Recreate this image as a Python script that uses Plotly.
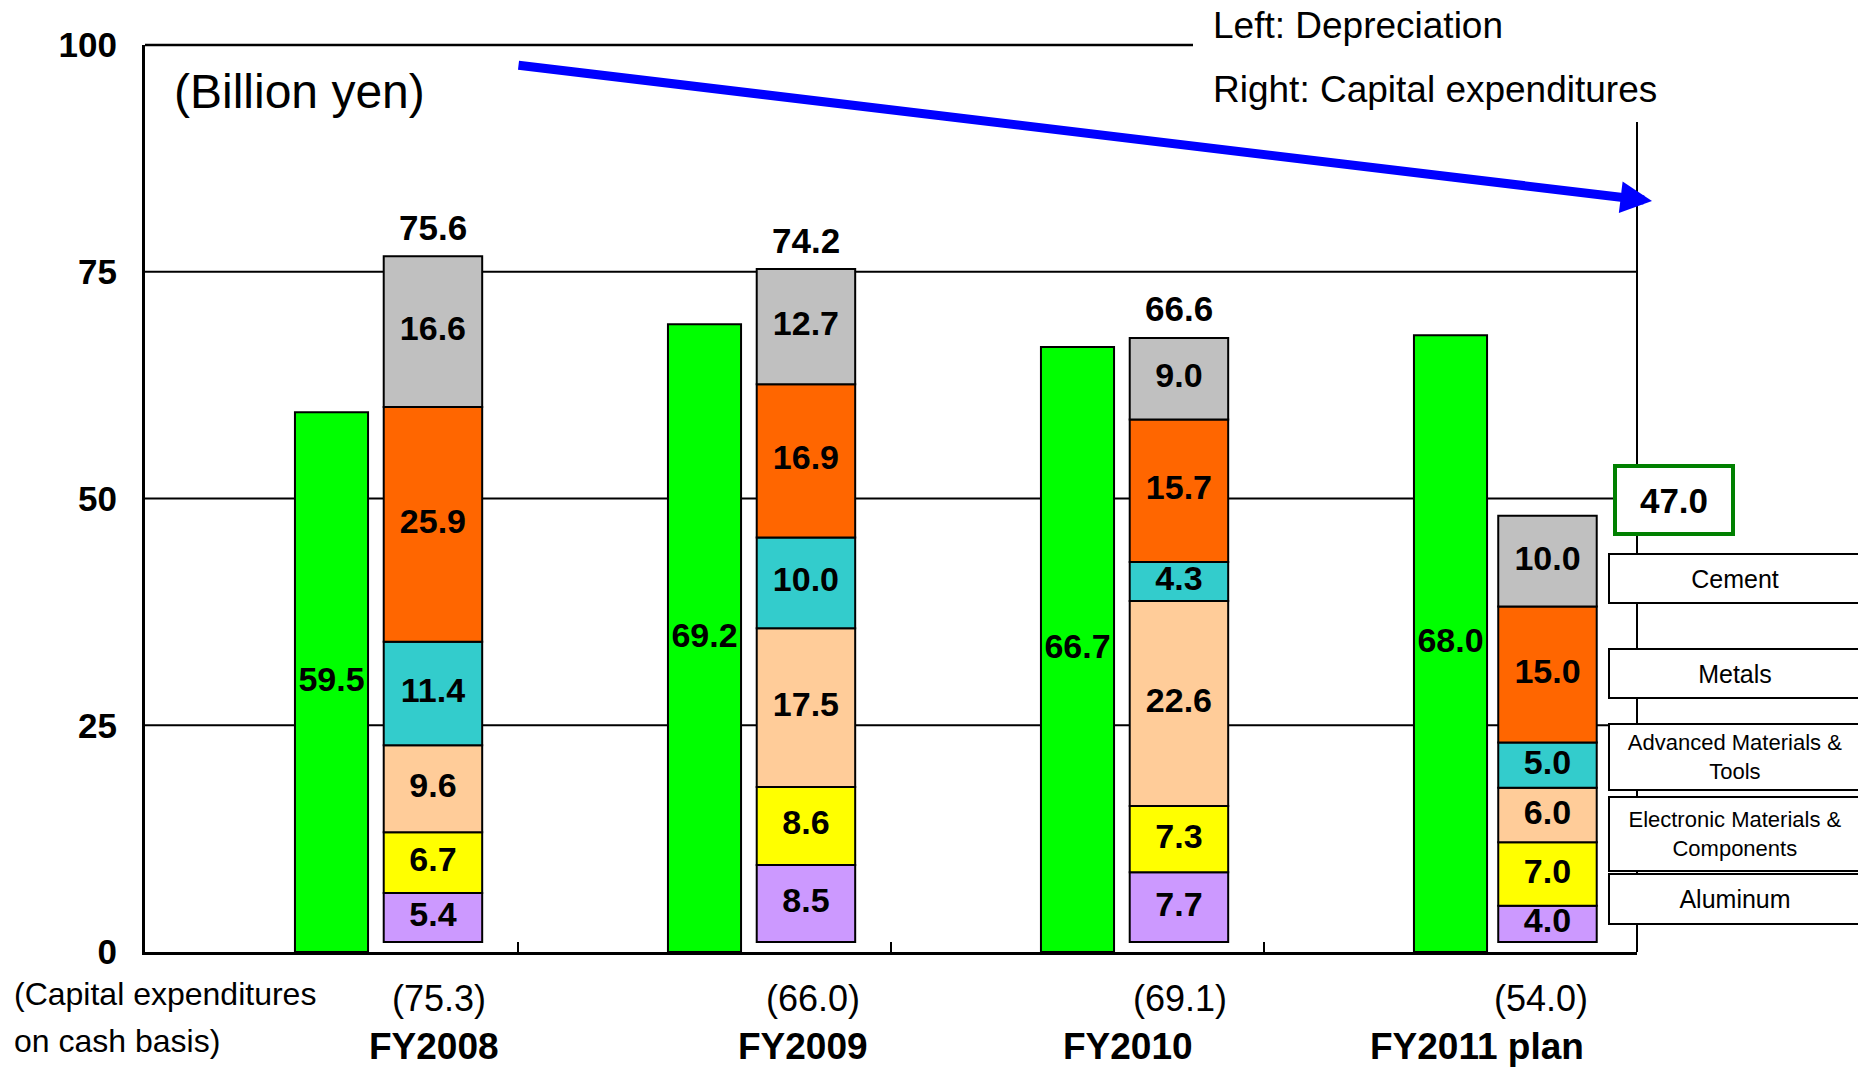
import numpy as np
import plotly.graph_objects as go

# ---- data (billion yen) ----
years = ["FY2008", "FY2009", "FY2010", "FY2011 plan"]
depreciation = [59.5, 69.2, 66.7, 68.0]
capex_cash_basis = ["(75.3)", "(66.0)", "(69.1)", "(54.0)"]

# capital expenditure segments, listed bottom to top of each stack
others = [5.4, 8.5, 7.7, 4.0]
aluminum = [6.7, 8.6, 7.3, 7.0]
electronic = [9.6, 17.5, 22.6, 6.0]
advanced = [11.4, 10.0, 4.3, 5.0]
metals = [25.9, 16.9, 15.7, 15.0]
cement = [16.6, 12.7, 9.0, 10.0]
capex_totals = [75.6, 74.2, 66.6, 47.0]

segment_labels = ["Cement", "Metals", "Advanced Materials &<br>Tools",
                  "Electronic Materials &<br>Components", "Aluminum"]
y_ticks = [0, 25, 50, 75, 100]

# ---- styling ----
FONT = "Liberation Sans, Arial, sans-serif"
W, H = 1858, 1067
L, R, T, B = 145, 1637, 45, 952          # plot-area edges in page pixels
STACK_BASE = 1.1                          # stacks sit slightly above the axis
DEP_W, CAP_W, CAP_SHIFT = 0.196, 0.264, 0.272

segments = [
    ("Others", others, "#CC99FF"),
    ("Aluminum", aluminum, "#FFFF00"),
    ("Electronic Materials & Components", electronic, "#FFCC99"),
    ("Advanced Materials & Tools", advanced, "#33CCCC"),
    ("Metals", metals, "#FF6600"),
    ("Cement", cement, "#C0C0C0"),
]


def px_x(px):
    return (px - L) / (R - L)


def px_y(py):
    return (B - py) / (B - T)


def note(**kw):
    """Annotation with explicit centre anchoring unless overridden."""
    d = dict(xanchor="center", yanchor="middle", showarrow=False)
    d.update(kw)
    return d


x_dep = np.arange(len(years)) + 0.5
x_cap = x_dep + CAP_SHIFT - np.array([0, 0, 0, 0.012])

fig = go.Figure()
outline = dict(color="black", width=2)
num_font = dict(family=FONT, size=34, color="black", weight="bold")

# depreciation bars
fig.add_trace(go.Bar(x=x_dep, y=depreciation, width=DEP_W,
                     marker=dict(color="#00FF00", line=outline),
                     name="Depreciation", showlegend=False))
fig.add_trace(go.Scatter(x=x_dep, y=np.array(depreciation) / 2, mode="text",
                         text=[f"{v:.1f}" for v in depreciation],
                         textfont=num_font, textposition="middle center",
                         showlegend=False, cliponaxis=False))

# stacked capital expenditure bars
base = np.full(len(years), STACK_BASE)
for name, vals, color in segments:
    vals = np.array(vals)
    fig.add_trace(go.Bar(x=x_cap, y=vals, base=base, width=CAP_W,
                         marker=dict(color=color, line=outline),
                         name=name, showlegend=False))
    fig.add_trace(go.Scatter(x=x_cap, y=base + vals / 2, mode="text",
                             text=[f"{v:.1f}" for v in vals],
                             textfont=num_font, textposition="middle center",
                             showlegend=False, cliponaxis=False))
    base = base + vals

annotations = []

# totals above the stacks
for i in range(3):
    annotations.append(note(x=x_cap[i], y=STACK_BASE + capex_totals[i],
                            xref="x", yref="y", yshift=29,
                            text=f"{capex_totals[i]:.1f}",
                            font=dict(family=FONT, size=35, color="black", weight="bold")))
# plan total in a framed box
annotations.append(note(x=px_x(1674), y=px_y(500), xref="paper", yref="paper",
                        text=f"{capex_totals[3]:.1f}",
                        font=dict(family=FONT, size=35, color="black", weight="bold"),
                        bordercolor="#008000", borderwidth=4, borderpad=0,
                        bgcolor="white", width=114, height=64))

# segment name boxes on the right
box_rows = [(578.5, 47, 25), (673.5, 47, 25), (757, 64, 22), (834, 72, 22), (899, 48, 25)]
for label, (cy, h, fs) in zip(segment_labels, box_rows):
    annotations.append(note(x=px_x(1735), y=px_y(cy), xref="paper", yref="paper",
                            text=label,
                            font=dict(family=FONT, size=fs, color="black"),
                            bordercolor="black", borderwidth=2, borderpad=0,
                            bgcolor="white", width=250, height=h))

# unit and series explanation
annotations += [
    note(x=px_x(172), y=px_y(92), xref="paper", yref="paper", xanchor="left",
         text="(Billion yen)", font=dict(family=FONT, size=48, color="black")),
    note(x=px_x(1211), y=px_y(25), xref="paper", yref="paper", xanchor="left",
         text="Left: Depreciation", font=dict(family=FONT, size=37, color="black")),
    note(x=px_x(1211), y=px_y(90), xref="paper", yref="paper", xanchor="left",
         text="Right: Capital expenditures",
         font=dict(family=FONT, size=37, color="black")),
]

# trend arrow
annotations.append(dict(x=px_x(1652), y=px_y(201), xref="paper", yref="paper",
                        ax=517 - 1652, ay=65 - 201, axref="pixel", ayref="pixel",
                        showarrow=True, text="", arrowcolor="#0000FF",
                        arrowwidth=9, arrowhead=2, arrowsize=0.7))

# category captions under the axis
cash_dx = [0.016, 0.018, 0.002, -0.018]
year_dx = [0.002, -0.008, -0.137, -0.189]
for i in range(len(years)):
    annotations.append(note(x=x_cap[i] + cash_dx[i], y=px_y(998), xref="x", yref="paper",
                            text=capex_cash_basis[i],
                            font=dict(family=FONT, size=36, color="black")))
    annotations.append(note(x=x_cap[i] + year_dx[i], y=px_y(1046), xref="x", yref="paper",
                            text=years[i],
                            font=dict(family=FONT, size=37, color="black", weight="bold")))
annotations += [
    note(x=px_x(12), y=px_y(994), xref="paper", yref="paper", xanchor="left",
         text="(Capital expenditures", font=dict(family=FONT, size=32, color="black")),
    note(x=px_x(12), y=px_y(1041), xref="paper", yref="paper", xanchor="left",
         text="on cash basis)", font=dict(family=FONT, size=32, color="black")),
]

# grid lines and the partial frame
shapes = [dict(type="line", xref="paper", yref="y", x0=0, x1=1, y0=g, y1=g,
               line=dict(color="black", width=2), layer="below")
          for g in y_ticks[1:-1]]
shapes += [
    dict(type="line", xref="paper", yref="paper", x0=0, x1=px_x(1193), y0=1, y1=1,
         line=dict(color="black", width=2.5), layer="below"),
    dict(type="line", xref="paper", yref="paper", x0=1, x1=1, y0=0, y1=px_y(122),
         line=dict(color="black", width=2), layer="below"),
]

fig.update_layout(
    width=W, height=H, autosize=False,
    margin=dict(l=L, r=W - R, t=T, b=H - B, pad=0),
    paper_bgcolor="white", plot_bgcolor="white",
    barmode="overlay", showlegend=False,
    font=dict(family=FONT, color="black"),
    annotations=annotations, shapes=shapes,
    xaxis=dict(range=[0, 4], showline=True, linecolor="black", linewidth=3,
               ticks="inside", tickvals=[1, 2, 3], ticklen=10, tickwidth=2,
               tickcolor="black", showticklabels=False, showgrid=False,
               zeroline=False, fixedrange=True),
    yaxis=dict(range=[0, 100], tickvals=y_ticks, showline=True, linecolor="black",
               linewidth=3, ticks="", showgrid=False, zeroline=False,
               tickfont=dict(family=FONT, size=35, color="black", weight="bold"),
               ticklabelstandoff=18, fixedrange=True),
)

fig.write_html("out.html")
